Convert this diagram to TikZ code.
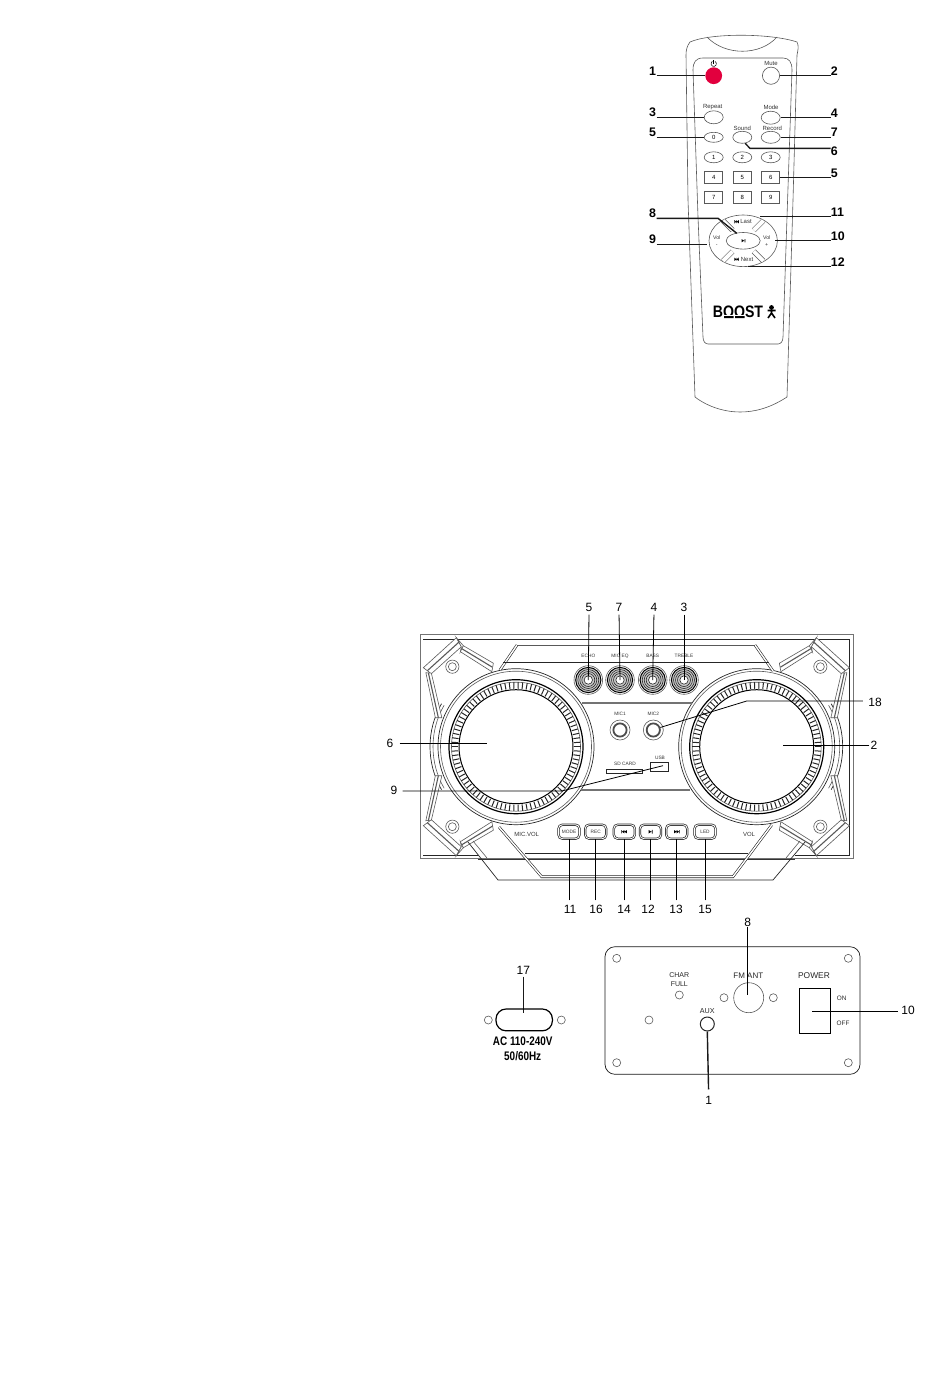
\documentclass[tikz,border=0pt]{standalone}
\usepackage{graphicx}
\usepackage{fontspec}
\setmainfont{Liberation Sans}
\usetikzlibrary{positioning,shapes.geometric}
\tikzset{
	fine/.style={line width=.3pt,black!65},
	thinline/.style={line width=.35pt,black!85},
	dbl/.style={line width=.3pt,black!85,double=white,double distance=.7pt},
	leader/.style={line width=.7pt,black!90},
	pointer/.style={line width=.4pt,black},
	numbold/.style={inner sep=0pt,font=\fontsize{6.2}{7}\selectfont\bfseries},
	numreg/.style={inner sep=0pt,font=\fontsize{6}{7}\selectfont},
	keyell/.style={ellipse,draw,fine,text=black,inner sep=0pt,minimum width=9.5pt,minimum height=5.5pt,font=\fontsize{3}{3}\selectfont},
	keybox/.style={rectangle,draw,fine,text=black,inner sep=0pt,minimum width=9pt,minimum height=6pt,font=\fontsize{3}{3}\selectfont},
	tag/.style={inner sep=0pt,text=black!80,font=\fontsize{3}{4}\selectfont},
	tiny/.style={inner sep=0pt,text=black!80,font=\fontsize{2.4}{3}\selectfont},
	rear/.style={inner sep=0pt,text=black!85,font=\fontsize{3.5}{4.4}\selectfont,align=center},
	screw/.style={circle,draw,fine,inner sep=0pt,minimum size=4pt},
	panelbtn/.style={rectangle,draw,line width=.35pt,black!85,double=white,double distance=.45pt,rounded corners=2pt,inner sep=0pt,minimum width=10.5pt,minimum height=7pt,text=black!80,font=\fontsize{2.4}{3}\selectfont},
	knob/.style={circle,draw,line width=.5pt,black,fill=black!22,inner sep=0pt,minimum size=12.6pt},
	jack/.style={circle,draw,line width=.5pt,black!85,inner sep=0pt,minimum size=7pt}
}
\newcommand{\skipmark}[3]{
	\fill[black,shift={(#1,#2)},xscale=#3] (-3,-1.6) rectangle (-2.4,1.6) (-2.4,0) -- (0,-1.6) -- (0,1.6) -- cycle (0,0) -- (2.6,-1.6) -- (2.6,1.6) -- cycle;
}
\newcommand{\playmark}[3]{
	\fill[black,shift={(#1,#2)},scale=#3] (-2,-1.8) -- (1,0) -- (-2,1.8) -- cycle (1.4,-1.8) rectangle (2.2,1.8);
}
\begin{document}
\begin{tikzpicture}[x=.5pt,y=-.5pt]
	\useasboundingbox (0,0) rectangle (950,1397);

	\draw[fine] (707,37) .. controls (725,56) and (760,56) .. (777,37);
	\draw[fine] (690,42) .. controls (710,33) and (770,33) .. (797,42) .. controls (799,46) and (798,50) .. (797,55) -- (793,200) -- (787,397) .. controls (770,408) and (755,412) .. (740,412) .. controls (725,412) and (708,407) .. (695,397) -- (688,200) -- (686,55) .. controls (686,50) and (687,46) .. (690,42);
	\draw[fine] (703,58) -- (783,58) .. controls (789,58) and (792,62) .. (792,70) -- (787,217) -- (783,337) .. controls (783,341) and (781,344) .. (778,344) -- (708,344) .. controls (705,344) and (703,341) .. (703,337) -- (698,217) -- (693,70) .. controls (693,62) and (696,58) .. (703,58);

	\node[circle,fill={rgb,255:red,226;green,0;blue,62},inner sep=0pt,minimum size=8.4pt] (power) at (713.7,75.7) {};
	\node[circle,draw,fine,inner sep=0pt,minimum size=8.6pt] (mute) at (771,75.7) {};
	\node[keyell,minimum height=6.5pt] (repeat) at (713.7,117.3) {};
	\node[keyell,minimum height=6.5pt] (mode) at (770.7,117.7) {};
	\node[keyell,minimum height=5pt] (k0) at (713.7,137.3) {0};
	\node[keyell,minimum height=6pt] (sound) at (742.3,137.3) {};
	\node[keyell,minimum height=6pt] (record) at (770.7,137.3) {};
	\foreach \lab/\xx in {1/713.7,2/742.3,3/770.7}
		\node[keyell] (k\lab) at (\xx,157.3) {\lab};
	\foreach \lab/\xx in {4/713.7,5/742.3,6/770.7}
		\node[keybox] (k\lab) at (\xx,177.7) {\lab};
	\foreach \lab/\xx in {7/713.7,8/742.3,9/770.7}
		\node[keybox] (k\lab) at (\xx,197.3) {\lab};
	\draw[line width=.25pt] (715.05,61.4) arc (-60:240:2.7);
	\draw[line width=.25pt] (713.7,60) -- (713.7,63.7);
	\node[tag] (muteT) at (771,63.3) {Mute};
	\node[tag] (repeatT) at (712.7,106.7) {Repeat};
	\node[tag] (modeT) at (771,107) {Mode};
	\node[tag] (soundT) at (742.3,128.3) {Sound};
	\node[tag] (recordT) at (772.3,128.3) {Record};

	\node[ellipse,draw,fine,inner sep=0pt,minimum width=34.2pt,minimum height=25.8pt] (dpad) at (743.2,240.8) {};
	\foreach \a in {45,135,225,315}
		\draw[fine,double=white,double distance=2pt] ([shift={(\a:15)}]dpad.center) -- ([shift={(\a:28.5)}]dpad.center);
	\node[ellipse,draw,fine,fill=white,inner sep=0pt,minimum width=17pt,minimum height=8.3pt] (play) at (743.2,240.8) {};
	\playmark{743.3}{240.7}{.9}
	\skipmark{736.7}{221.7}{.8}
	\skipmark{736.5}{259.3}{-.8}
	\node[tag] (lastT) at (746,221.7) {Last};
	\node[tag] (nextT) at (747,259.3) {Next};
	\node[tag,align=center,font=\fontsize{2.6}{3.2}\selectfont] (volL) at (716.7,241) {Vol\\-};
	\node[tag,align=center,font=\fontsize{2.6}{3.2}\selectfont] (volR) at (766.7,241) {Vol\\+};
	\coordinate (lastpt) at (760,216.7);
	\coordinate (nextpt) at (748,266.7);
	\coordinate (volLpt) at (706.7,244.3);
	\coordinate (volRpt) at (775,240.7);
	\coordinate (playpt) at (736.7,233.3);
	\coordinate (playbend) at (718,218.3);
	\coordinate (soundbend) at (750,148.3);

	\node[inner sep=0pt,font=\fontsize{8.3}{9}\selectfont\bfseries] (boost) at (738,311.5) {\scalebox{.85}[1]{BOOST}};
	\fill[white] (723,314.6) rectangle (745,316);
	\fill (724,316) rectangle (733.5,318) (735,316) rectangle (744.5,318);
	\fill (771.5,307.5) circle (2.4);
	\draw[line width=.8pt] (771.5,310) -- (771.5,313) (767.5,310.5) -- (775.5,310.5) (771.5,313) -- (768,318) (771.5,313) -- (775,318);

	\node[numbold,anchor=south east] (n1) at (656.5,75.7) {1};
	\node[numbold,anchor=south west] (n2) at (830.5,75.7) {2};
	\node[numbold,anchor=south east] (n3) at (656.5,117.3) {3};
	\node[numbold,anchor=south west] (n4) at (830.5,117.7) {4};
	\node[numbold,anchor=south east] (n5a) at (656.5,137.3) {5};
	\node[numbold,anchor=south west] (n7) at (830.5,137.3) {7};
	\node[numbold,anchor=north west] (n6) at (830.5,146) {6};
	\node[numbold,anchor=south west] (n5b) at (830.5,177.7) {5};
	\node[numbold,anchor=south east] (n8) at (656.5,218.3) {8};
	\node[numbold,anchor=south west] (n11) at (830.5,216.7) {11};
	\node[numbold,anchor=south east] (n9) at (656.5,244.3) {9};
	\node[numbold,anchor=south west] (n10) at (830.5,240.7) {10};
	\node[numbold,anchor=south west] (n12) at (830.5,266.7) {12};
	\draw[leader] (n1.south east) -- (power.west);
	\draw[leader] (n2.south west) -- (mute.east);
	\draw[leader] (n3.south east) -- (repeat.west);
	\draw[leader] (n4.south west) -- (mode.east);
	\draw[leader] (n5a.south east) -- (k0.west);
	\draw[leader] (n7.south west) -- (record.east);
	\draw[leader] (sound.-65) -- (soundbend) -- (soundbend -| n6.west);
	\draw[leader] (n5b.south west) -- (k6.east);
	\draw[leader] (n8.south east) -- (playbend) -- (playpt);
	\draw[leader] (n11.south west) -- (lastpt);
	\draw[leader] (n9.south east) -- (volLpt);
	\draw[leader] (n10.south west) -- (volRpt);
	\draw[leader] (n12.south west) -- (nextpt);

	\draw[line width=.45pt,black!55] (420,634.5) rectangle (853,858);
	\draw[thinline] (423,639) -- (849,639) -- (849,855) -- (795,855) (478,855) -- (423,855) -- cycle;
	\coordinate (dialL) at (516,746.7);
	\coordinate (dialR) at (756.7,746.7);
	\foreach \d in {dialL,dialR} {
		\draw[thinline] (\d) circle (78);
		\draw[fine] (\d) circle (75.5);
		\draw[line width=.6pt,black] (\d) circle (67);
		\draw[line width=.5pt,black] (\d) circle (57);
		\draw[fine] (\d) circle (64.5);
		\foreach \a in {0,4,...,356}
			\draw[line width=.5pt,black!85] ([shift={(\a:58)}]\d) -- ([shift={(\a:64.5)}]\d);
	}
	\draw[thinline] ([shift={(150:86)}]dialL) arc (150:210:86);
	\draw[fine] ([shift={(150:83)}]dialL) arc (150:210:83);
	\draw[thinline] ([shift={(-30:86)}]dialR) arc (-30:30:86);
	\draw[fine] ([shift={(-30:83)}]dialR) arc (-30:30:83);
	\foreach \sx in {1,-1}
		\foreach \sy in {1,-1} {
			\begin{scope}[shift={(636.35,746.7)},xscale=\sx,yscale=\sy]
				\filldraw[fine,fill=white] (-213,-79) -- (-180,-109) -- (-175,-100) -- (-205,-73) -- cycle;
				\filldraw[fine,fill=white] (-180,-109) -- (-173,-101) -- (-176,-95) -- (-175,-100) -- cycle;
				\filldraw[fine,fill=white] (-173,-101) -- (-143,-83.5) -- (-144.5,-75) -- (-176,-95) -- cycle;
				\filldraw[fine,fill=white] (-210.5,-74) -- (-201,-29) -- (-194.5,-29) -- (-205,-73.5) -- cycle;
				\draw[line width=.55pt,black!65] (-209,-76) -- (-177.5,-104.5) (-174.5,-98) -- (-144,-79.5) (-208,-74) -- (-198,-29);
				\node[circle,draw,fine,inner sep=0pt,minimum size=6.6pt] (screw\sx\sy) at (-184,-80) {};
				\node[circle,draw,fine,inner sep=0pt,minimum size=4pt] (screwin\sx\sy) at (-184,-80) {};
			\end{scope}
		}

	\draw[dbl] (517,645) -- (500,670);
	\draw[dbl] (755,645) -- (773,671);
	\draw[fine] (517,645) -- (755,645);
	\draw[thinline] (503,662) -- (769,662);
	\draw[line width=.6pt,black!55] (582,703) -- (692,703);
	\draw[line width=.6pt,black!55] (581,790) -- (690,790);
	\draw[line width=.4pt,black!85] (525,853) -- (748,853);
	\draw[line width=.3pt,black!80] (478,859) -- (795,859);
	\draw[dbl] (499,827) -- (541.7,876.7) -- (733,876.7) -- (771.7,825);
	\draw[thinline] (468,842) -- (498,880) -- (773,880) -- (805,842);
	\draw[fine] (473,841) -- (487,858);
	\draw[fine] (800,841) -- (786,858);

	\foreach \nm/\xx/\lab in {echo/588.3/ECHO,miceq/620/MIC EQ,bass/652.7/BASS,treble/684/TREBLE} {
		\node[circle,draw,fine,inner sep=0pt,minimum size=14.3pt] (\nm ring) at (\xx,680) {};
		\node[knob] (\nm) at (\xx,680) {};
		\draw[line width=.3pt,black!85] (\nm) circle (10.5) (\nm) circle (8.5) (\nm) circle (6.5);
		\filldraw[line width=.3pt,fill=white,draw=black!85] (\nm) circle (4.2);
		\node[tiny] (\nm T) at (\xx,656) {\lab};
	}
	\foreach \nm/\xx/\lab in {mica/620/MIC1,micb/653.3/MIC2} {
		\node[circle,draw,fine,inner sep=0pt,minimum size=10pt] (\nm ring) at (\xx,730) {};
		\node[circle,draw,line width=.9pt,black!70,inner sep=0pt,minimum size=6.6pt] (\nm) at (\xx,730) {};
		\node[tiny] (\nm T) at (\xx,714) {\lab};
	}
	\node[rectangle,draw,thinline,inner sep=0pt,minimum width=17.6pt,minimum height=2pt] (sdslot) at (624.3,771) {};
	\node[tiny] (sdT) at (625,764) {SD CARD};
	\node[rectangle,draw,thinline,inner sep=0pt,minimum width=9.4pt,minimum height=4.6pt] (usb) at (659.3,767.2) {};
	\node[tiny] (usbT) at (660,758) {USB};
	\node[tag] (micvol) at (526.7,834) {MIC.VOL};
	\node[tag] (vol) at (749,834) {VOL};

	\node[panelbtn] (bmode) at (569,831.7) {MODE};
	\node[panelbtn] (brec) at (595.7,831.7) {REC};
	\node[panelbtn] (bprev) at (624.3,831.7) {};
	\node[panelbtn] (bplay) at (650.5,831.7) {};
	\node[panelbtn] (bnext) at (676.7,831.7) {};
	\node[panelbtn] (bled) at (705,831.7) {LED};
	\skipmark{624.3}{831.7}{1}
	\playmark{650.5}{831.7}{1}
	\skipmark{676.7}{831.7}{-1}

	\node[numreg] (s5) at (589,607) {5};
	\node[numreg] (s7) at (619,607) {7};
	\node[numreg] (s4) at (654,607) {4};
	\node[numreg] (s3) at (684,607) {3};
	\node[numreg] (s18) at (875,702) {18};
	\node[numreg] (s6) at (390,743) {6};
	\node[numreg] (s2) at (874,745) {2};
	\node[numreg] (s9) at (394,790) {9};
	\node[numreg] (s11) at (570,909) {11};
	\node[numreg] (s16) at (596,909) {16};
	\node[numreg] (s14) at (624,909) {14};
	\node[numreg] (s12) at (648,909) {12};
	\node[numreg] (s13) at (676,909) {13};
	\node[numreg] (s15) at (705,909) {15};
	\coordinate (pt6) at (487,743);
	\coordinate (pt2) at (783,745);
	\coordinate (bend18) at (746.7,701);
	\coordinate (bend9) at (561.7,791);
	\coordinate (pt9) at (663,765.7);
	\draw[pointer,shorten <=1.5pt] (s5.south) -- (echo.center);
	\draw[pointer,shorten <=1.5pt] (s7.south) -- (miceq.center);
	\draw[pointer,shorten <=1.5pt] (s4.south) -- (bass.center);
	\draw[pointer,shorten <=1.5pt] (s3.south) -- (treble.center);
	\draw[pointer,shorten <=2.5pt] (s18.west |- bend18) -- (bend18) -- (micb.20);
	\draw[pointer,shorten <=3pt] (s6.east) -- (pt6);
	\draw[pointer,shorten <=.5pt] (s2.west) -- (pt2);
	\draw[pointer,shorten <=2.5pt] (s9.east |- bend9) -- (bend9) -- (pt9);
	\draw[pointer,shorten <=2pt] (s11.north -| bmode.south) -- (bmode.south);
	\draw[pointer,shorten <=2pt] (s16.north -| brec.south) -- (brec.south);
	\draw[pointer,shorten <=2pt] (s14.north -| bprev.south) -- (bprev.south);
	\draw[pointer,shorten <=2pt] (s12.north -| bplay.south) -- (bplay.south);
	\draw[pointer,shorten <=2pt] (s13.north -| bnext.south) -- (bnext.south);
	\draw[pointer,shorten <=2pt] (s15.north -| bled.south) -- (bled.south);

	\draw[line width=.35pt,black!90,rounded corners=5pt] (605,946.7) rectangle (860,1074.3);
	\foreach \nm/\xx/\yy in {a/616.7/958.3,b/848.3/958.3,c/616.7/1062.7,d/848.3/1062.7,e/649/1020,f/679.3/995,g/724/997.7,h/773.3/997.7,i/488.3/1020,j/561.3/1020}
		\node[screw] (hole\nm) at (\xx,\yy) {};
	\node[rear] (charT) at (679.3,979.5) {CHAR\\FULL};
	\node[rear,font=\fontsize{4}{5}\selectfont] (fmT) at (748.3,975.7) {FM ANT};
	\node[circle,draw,fine,inner sep=0pt,minimum size=15pt] (fm) at (748.7,997.7) {};
	\node[rear,font=\fontsize{4.2}{5}\selectfont] (powerT) at (814,975.7) {POWER};
	\node[rectangle,draw,line width=.5pt,black,inner sep=0pt,minimum width=15.7pt,minimum height=22.5pt] (switch) at (815,1010.8) {};
	\node[rear,font=\fontsize{3.2}{4}\selectfont] (onT) at (841.7,998.3) {ON};
	\node[rear,font=\fontsize{3.2}{4}\selectfont] (offT) at (843,1023) {OFF};
	\node[rear,font=\fontsize{3.6}{4}\selectfont] (auxT) at (707.3,1010.7) {AUX};
	\node[jack] (aux) at (707.3,1024) {};
	\node[numreg] (r8) at (747.7,922.7) {8};
	\node[numreg] (r1) at (708.7,1100) {1};
	\node[numreg] (r10) at (908,1010.7) {10};
	\node[numreg] (r17) at (523.3,970) {17};
	\coordinate (fmpt) at (747.7,995);
	\coordinate (swpt) at (811.7,1011.7);
	\coordinate (acpt) at (523.3,1013.3);
	\draw[pointer] (r8.south) -- (fmpt);
	\draw[leader,shorten <=3pt] (r1.north) -- (aux.south);
	\draw[pointer,shorten <=1.5pt] (r10.west |- swpt) -- (swpt);
	\draw[leader,shorten <=1pt] (r17.south) -- (acpt);
	\node[rectangle,draw,line width=.6pt,black,rounded corners=5pt,inner sep=0pt,minimum width=28.2pt,minimum height=10.9pt] (acsock) at (524.2,1019.9) {};
	\node[inner sep=0pt,font=\fontsize{6.2}{7}\selectfont\bfseries] (acT) at (522.7,1041.7) {\scalebox{.8}[1]{AC 110-240V}};
	\node[inner sep=0pt,font=\fontsize{6.2}{7}\selectfont\bfseries] (hzT) at (522.7,1056) {\scalebox{.8}[1]{50/60Hz}};
\end{tikzpicture}
\end{document}
